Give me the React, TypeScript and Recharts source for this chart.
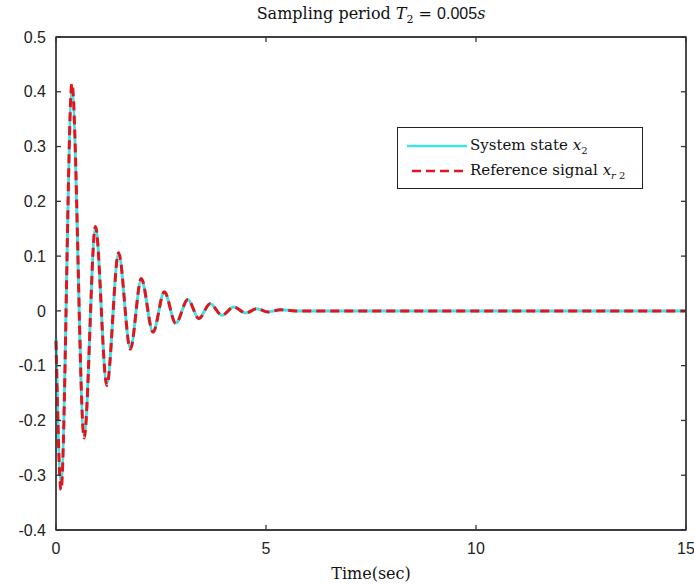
import { LineChart, Line, XAxis, YAxis, Legend, ReferenceArea } from "recharts";

// time stamps (sec) at the turning points
const times = [
  0, 0.12, 0.38, 0.67, 0.94, 1.21, 1.49, 1.77, 2.03, 2.31, 2.58, 2.85, 3.14, 3.4,
  3.67, 3.95, 4.23, 4.52, 4.78, 5.05, 5.35, 5.7, 6.5, 8, 10, 12, 15,
];
const systemState = [
  -0.05, -0.31, 0.4, -0.226, 0.15, -0.132, 0.103, -0.068, 0.057, -0.038, 0.034,
  -0.022, 0.021, -0.014, 0.013, -0.008, 0.007, -0.004, 0.004, -0.002, 0.002, 0,
  0, 0, 0, 0, 0,
];
const referenceSignal = [
  -0.055, -0.327, 0.415, -0.232, 0.154, -0.136, 0.106, -0.07, 0.059, -0.039,
  0.035, -0.023, 0.021, -0.014, 0.013, -0.008, 0.007, -0.004, 0.004, -0.002,
  0.002, 0, 0, 0, 0, 0, 0,
];
const xTicks = [0, 5, 10, 15];
const yTicks = [-0.4, -0.3, -0.2, -0.1, 0, 0.1, 0.2, 0.3, 0.4, 0.5];

const data = times.map((t, i) => ({
  t,
  sys: systemState[i],
  ref: referenceSignal[i],
}));

const series = [
  { key: "sys", label: "System state ", color: "#3fe3e6", dash: undefined },
  { key: "ref", label: "Reference signal ", color: "#e3141c", dash: "9 5" },
];

const axisColor = "#333";
const tickFont = { fontFamily: "Liberation Sans", fontSize: 16, fill: "#222" };
const serif = "'DejaVu Serif', serif";

function LegendBox() {
  return (
    <div
      style={{
        width: 246,
        height: 62,
        border: "1px solid #222",
        background: "#fff",
        boxSizing: "border-box",
        fontFamily: serif,
        fontSize: 15,
        color: "#111",
        padding: "5px 0 0 9px",
      }}
    >
      {series.map((s) => (
        <div key={s.key} style={{ display: "flex", alignItems: "center", height: 25 }}>
          <svg width={60} height={10} style={{ marginRight: 3 }}>
            <line
              x1={s.dash ? 5 : 0}
              y1={5}
              x2={60}
              y2={5}
              stroke={s.color}
              strokeWidth={2.5}
              strokeDasharray={s.dash}
            />
          </svg>
          <span style={{ whiteSpace: "nowrap" }}>
            {s.label}
            <i>x</i>
            <sub style={{ fontSize: 10 }}>
              {s.key === "ref" ? (
                <>
                  <i>r</i> 2
                </>
              ) : (
                "2"
              )}
            </sub>
          </span>
        </div>
      ))}
    </div>
  );
}

const blank = () => "";

export default function App() {
  return (
    <div style={{ position: "absolute", left: 0, top: 0, width: 694, height: 586, background: "#fff" }}>
      <div
        style={{
          position: "absolute",
          left: 56,
          width: 630,
          top: 4,
          textAlign: "center",
          fontFamily: serif,
          fontSize: 16,
          color: "#111",
          whiteSpace: "nowrap",
        }}
      >
        Sampling period <i>T</i>
        <sub style={{ fontSize: 11 }}>2</sub> ={" "}
        <span style={{ fontFamily: "Liberation Sans" }}>0.005</span>
        <i>s</i>
      </div>
      <LineChart
        width={694}
        height={586}
        data={data}
        margin={{ top: 7, right: 0, bottom: 0, left: 0 }}
      >
        <XAxis
          dataKey="t"
          type="number"
          domain={[0, 15]}
          ticks={xTicks}
          height={56}
          stroke={axisColor}
          strokeWidth={1.3}
          tickSize={-5}
          tickMargin={18}
          tick={tickFont}
          label={{
            value: "Time(sec)",
            position: "insideBottom",
            offset: 7,
            style: { fontFamily: serif, fontSize: 16, fill: "#111" },
          }}
        />
        <XAxis
          xAxisId="top"
          dataKey="t"
          type="number"
          orientation="top"
          domain={[0, 15]}
          ticks={xTicks}
          height={30}
          stroke={axisColor}
          strokeWidth={1.3}
          tickSize={-5}
          tickFormatter={blank}
        />
        <YAxis
          type="number"
          domain={[-0.4, 0.5]}
          ticks={yTicks}
          width={56}
          stroke={axisColor}
          strokeWidth={1.3}
          tickSize={-5}
          tickMargin={15}
          tick={tickFont}
        />
        <YAxis
          yAxisId="right"
          orientation="right"
          type="number"
          domain={[-0.4, 0.5]}
          ticks={yTicks}
          width={8}
          stroke={axisColor}
          strokeWidth={1.3}
          tickSize={-5}
          tickFormatter={blank}
        />
        <ReferenceArea
          x1={0}
          x2={15}
          y1={-0.4}
          y2={0.5}
          fill="none"
          stroke={axisColor}
          strokeWidth={1.3}
          ifOverflow="visible"
        />
        <Legend
          layout="vertical"
          align="center"
          verticalAlign="middle"
          content={() => <LegendBox />}
          wrapperStyle={{ position: "absolute", left: 397, top: 127, width: 246 }}
        />
        {/* invisible copy bound to the top/right axes so their ticks get drawn */}
        <Line
          xAxisId="top"
          yAxisId="right"
          dataKey="ref"
          stroke="none"
          dot={false}
          activeDot={false}
          legendType="none"
          isAnimationActive={false}
        />
        {series.map((s) => (
          <Line
            key={s.key}
            dataKey={s.key}
            name={s.label}
            type="monotone"
            stroke={s.color}
            strokeWidth={3}
            strokeDasharray={s.dash}
            dot={false}
            activeDot={false}
            isAnimationActive={false}
          />
        ))}
      </LineChart>
    </div>
  );
}
